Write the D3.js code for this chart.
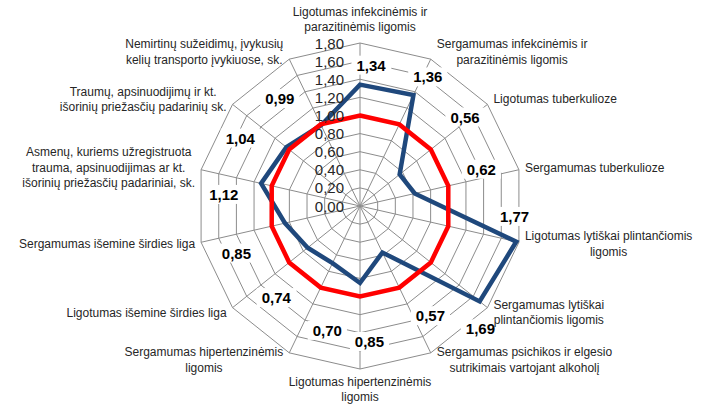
<!DOCTYPE html>
<html>
<head>
<meta charset="utf-8">
<script src="https://cdn.jsdelivr.net/npm/d3@7"></script>
<style>
body { margin: 0; background: #fff; }
text { font-family: "Liberation Sans", Arial, sans-serif; }
</style>
</head>
<body>
<script>
// axis categories (each entry = label lines)
var categories = [
	["Ligotumas infekcinėmis ir", "parazitinėmis ligomis"],
	["Sergamumas infekcinėmis ir", "parazitinėmis ligomis"],
	["Ligotumas tuberkulioze"],
	["Sergamumas tuberkulioze"],
	["Ligotumas lytiškai plintančiomis", "ligomis"],
	["Sergamumas lytiškai", "plintančiomis ligomis"],
	["Sergamumas psichikos ir elgesio", "sutrikimais vartojant alkoholį"],
	["Ligotumas hipertenzinėmis", "ligomis"],
	["Sergamumas hipertenzinėmis", "ligomis"],
	["Ligotumas išemine širdies liga"],
	["Sergamumas išemine širdies liga"],
	["Asmenų, kuriems užregistruota", "trauma, apsinuodijimas ar kt.", "išorinių priežasčių padariniai, sk."],
	["Traumų, apsinuodijimų ir kt.", "išorinių priežasčių padarinių sk."],
	["Nemirtinų sužeidimų, įvykusių", "kelių transporto įvykiuose, sk."]
]
var values = [1.34, 1.36, 0.56, 0.62, 1.77, 1.69, 0.57, 0.85, 0.70, 0.74, 0.85, 1.12, 1.04, 0.99]
var reference = [1.00, 1.00, 1.00, 1.00, 1.00, 1.00, 1.00, 1.00, 1.00, 1.00, 1.00, 1.00, 1.00, 1.00]
var ticks = [0, 0.2, 0.4, 0.6, 0.8, 1.0, 1.2, 1.4, 1.6, 1.8]

// where the value labels sit: [radius in axis units, angle shift in degrees]
var labelPos = [
	[1.56, 4.5], [1.61, 2], [1.52, -1.7], [1.40, -4], [1.71, -9], [1.90, 7], [1.44, -7],
	[1.50, -4], [1.42, -11], [1.37, -9], [1.46, -8], [1.51, -8], [1.52, -9], [1.48, -11]
]

var W = 702, H = 406
var cx = 360, cy = 206, R = 163
var n = categories.length
var fmt = function(v) { return d3.format(".2f")(v).replace(".", ",") }

var svg = d3.select("body").append("svg")
	.attr("width", W)
	.attr("height", H)

var r = d3.scaleLinear().domain([0, 1.8]).range([0, R])
var angle = function(i) { return i * 2 * Math.PI / n }
var px = function(a, rad) { return [cx + rad * Math.sin(a), cy - rad * Math.cos(a)] }

var g = svg.append("g").attr("transform", "translate(" + cx + "," + cy + ")")

var ring = d3.lineRadial()
	.angle(function(d, i) { return angle(i) })
	.radius(function(d) { return r(d) })
	.curve(d3.curveLinearClosed)

// grid rings
g.selectAll(".ring")
	.data(ticks.slice(1))
	.enter()
	.append("path")
	.attr("class", "ring")
	.attr("d", function(t) { return ring(categories.map(function() { return t })) })
	.attr("fill", "none")
	.attr("stroke", "#8c8c8c")
	.attr("stroke-width", 1)

// spokes
g.selectAll(".spoke")
	.data(categories)
	.enter()
	.append("line")
	.attr("class", "spoke")
	.attr("x1", 0).attr("y1", 0)
	.attr("x2", function(d, i) { return r(1.8) * Math.sin(angle(i)) })
	.attr("y2", function(d, i) { return -r(1.8) * Math.cos(angle(i)) })
	.attr("stroke", "#8c8c8c")
	.attr("stroke-width", 1)

// value labels with white boxes
var vl = svg.selectAll(".vlab")
	.data(values)
	.enter()
	.append("g")
	.attr("class", "vlab")
vl.each(function(v, i) {
	var p = px(angle(i) + labelPos[i][1] * Math.PI / 180, r(labelPos[i][0]))
	var grp = d3.select(this)
	var rect = grp.append("rect").attr("fill", "#fff")
	var t = grp.append("text")
		.attr("x", p[0]).attr("y", p[1])
		.attr("text-anchor", "middle")
		.attr("dominant-baseline", "central")
		.attr("font-size", "15px")
		.attr("font-weight", "bold")
		.attr("fill", "#000")
		.text(fmt(v))
	var b = t.node().getBBox()
	rect.attr("x", b.x - 5).attr("y", b.y - 1).attr("width", b.width + 10).attr("height", b.height + 2)
})

// series
g.append("path")
	.attr("d", ring(values))
	.attr("fill", "none")
	.attr("stroke", "#1f487c")
	.attr("stroke-width", 4.5)
	.attr("stroke-linejoin", "miter")

g.append("path")
	.attr("d", ring(reference))
	.attr("fill", "none")
	.attr("stroke", "#ff0000")
	.attr("stroke-width", 4.5)
	.attr("stroke-linejoin", "miter")

// tick labels on the top axis
g.selectAll(".tick")
	.data(ticks)
	.enter()
	.append("text")
	.attr("class", "tick")
	.attr("x", -16)
	.attr("y", function(t) { return -r(t) })
	.attr("text-anchor", "end")
	.attr("dominant-baseline", "central")
	.attr("font-size", "15px")
	.attr("fill", "#262626")
	.text(fmt)

// category labels
var lh = 15.5
svg.selectAll(".cat")
	.data(categories)
	.enter()
	.append("text")
	.attr("class", "cat")
	.attr("font-size", "12px")
	.attr("fill", "#262626")
	.attr("text-anchor", "middle")
	.each(function(lines, i) {
		var t = d3.select(this)
		lines.forEach(function(s, k) {
			t.append("tspan").attr("x", 0).attr("dy", k ? lh : 0).text(s)
		})
		var w = d3.max(t.selectAll("tspan").nodes(), function(nd) { return nd.getComputedTextLength() })
		var h = lines.length * lh
		var a = angle(i), v = px(a, R)
		var s = Math.sin(a), c = Math.cos(a)
		var x0, yc
		if (Math.abs(s) < 0.01) {
			x0 = v[0]
			yc = v[1] - c * (h / 2 + (c > 0 ? 8 : 5))
		} else {
			x0 = v[0] + (s > 0 ? 1 : -1) * (6 + w / 2)
			yc = v[1] - c * 8
		}
		var y0 = yc - h / 2 + lh / 2
		t.attr("transform", "translate(" + x0 + "," + y0 + ")")
			.attr("dominant-baseline", "central")
		t.selectAll("tspan").attr("dominant-baseline", "central")
	})
</script>
</body>
</html>
